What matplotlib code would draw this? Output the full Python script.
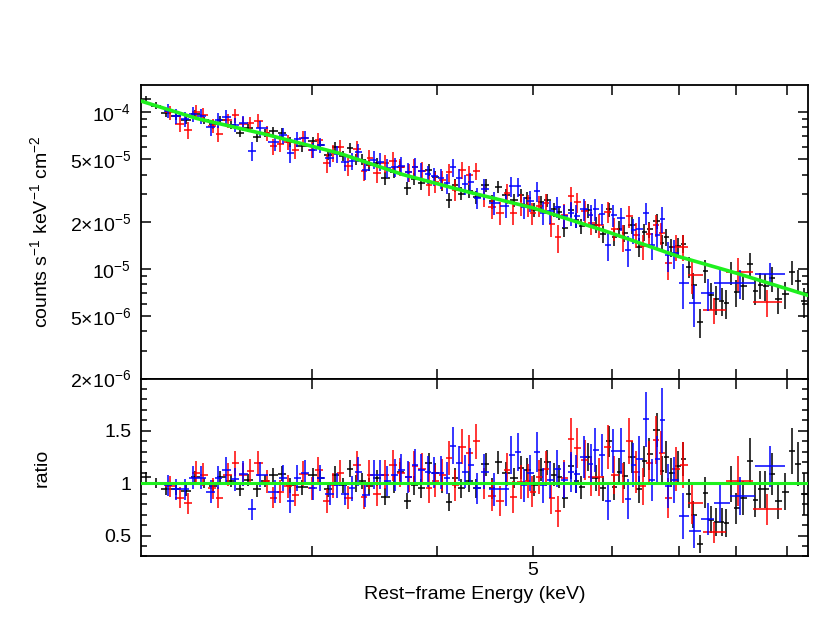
# spectrum + data/model ratio, three detectors, XSPEC style
import numpy as np
import matplotlib.pyplot as plt
from matplotlib.ticker import FixedLocator, FixedFormatter, MultipleLocator, NullLocator

plt.rcParams['font.family'] = ['Liberation Sans', 'DejaVu Sans']
plt.rcParams['mathtext.fontset'] = 'custom'
plt.rcParams['mathtext.rm'] = 'Liberation Sans'
plt.rcParams['mathtext.it'] = 'Liberation Sans:italic'
plt.rcParams['mathtext.default'] = 'regular'

# model curve (counts s^-1 keV^-1 cm^-2)
model_e = [2.0, 2.3, 2.7, 3.2, 3.7, 4.3, 5.0, 5.9, 7.0, 8.0, 9.5]
model_val = [1.20e-4, 9.1e-5, 7.2e-5, 5.45e-5, 4.0e-5, 3.1e-5, 2.45e-5, 1.75e-5, 1.20e-5, 9.4e-6, 6.7e-6]

# black data set: bin centre (keV), data/model ratio, ratio error
black_e = [2.044, 2.091, 2.140, 2.191, 2.242, 2.289, 2.338, 2.387, 2.425, 2.488,
           2.540, 2.588, 2.642, 2.691, 2.741, 2.799, 2.851, 2.931, 3.007, 3.056,
           3.114, 3.164, 3.223, 3.275, 3.321, 3.368, 3.423, 3.487, 3.552, 3.627,
           3.677, 3.737, 3.798, 3.860, 3.932, 3.987, 4.052, 4.118, 4.176, 4.234,
           4.313, 4.384, 4.486, 4.548, 4.612, 4.698, 4.786, 4.864, 4.932, 5.012,
           5.094, 5.165, 5.250, 5.311, 5.373, 5.460, 5.523, 5.587, 5.678, 5.785,
           5.880, 5.961, 6.031, 6.101, 6.172, 6.287, 6.389, 6.464, 6.539, 6.661,
           6.738, 6.801, 6.880, 6.992, 7.074, 7.173, 7.239, 7.357, 7.443, 7.547,
           7.635, 7.741, 7.813, 7.903, 7.996, 8.127, 8.259, 8.356, 8.452, 8.551,
           8.690, 8.812, 8.956, 9.101, 9.229, 9.358]
black_r = [1.06, 1.00, 0.94, 0.94, 0.93, 1.06, 1.00, 0.97, 1.06, 1.02,
           0.94, 1.03, 0.94, 1.02, 1.08, 1.09, 0.98, 0.96, 1.08, 1.05,
           0.94, 1.08, 0.98, 1.14, 1.00, 1.02, 0.97, 1.05, 0.87, 1.00,
           1.11, 0.83, 0.98, 0.95, 1.19, 1.10, 1.00, 0.82, 1.05, 0.95,
           1.02, 0.95, 1.18, 0.95, 1.20, 1.10, 1.05, 1.15, 1.13, 0.98,
           1.13, 1.20, 1.08, 1.06, 0.86, 1.16, 1.02, 0.96, 1.25, 1.05,
           0.95, 1.40, 0.96, 1.11, 1.07, 1.25, 0.94, 1.21, 1.28, 1.51,
           1.12, 1.25, 1.10, 1.16, 1.23, 0.90, 0.70, 0.42, 0.91, 0.65,
           0.63, 0.63, 0.62, 0.99, 0.76, 0.86, 1.21, 0.84, 0.94, 0.94,
           1.09, 0.83, 0.92, 1.31, 1.18, 0.90]
black_err = [0.05, 0.05, 0.05, 0.05, 0.05, 0.06, 0.05, 0.06, 0.06, 0.06,
             0.06, 0.06, 0.07, 0.06, 0.07, 0.07, 0.07, 0.07, 0.07, 0.07,
             0.07, 0.08, 0.07, 0.08, 0.08, 0.08, 0.08, 0.08, 0.08, 0.09,
             0.09, 0.08, 0.09, 0.09, 0.10, 0.09, 0.09, 0.09, 0.10, 0.09,
             0.10, 0.09, 0.11, 0.10, 0.11, 0.10, 0.10, 0.11, 0.11, 0.10,
             0.11, 0.12, 0.11, 0.11, 0.10, 0.12, 0.11, 0.11, 0.13, 0.12,
             0.12, 0.15, 0.12, 0.13, 0.13, 0.15, 0.13, 0.15, 0.15, 0.16,
             0.14, 0.15, 0.14, 0.15, 0.16, 0.14, 0.13, 0.09, 0.15, 0.13,
             0.13, 0.13, 0.13, 0.17, 0.15, 0.16, 0.22, 0.16, 0.18, 0.18,
             0.20, 0.17, 0.18, 0.22, 0.21, 0.20]

# red data set
red_e = [2.160, 2.211, 2.252, 2.294, 2.332, 2.387, 2.414, 2.470, 2.511, 2.558,
         2.600, 2.648, 2.703, 2.741, 2.786, 2.838, 2.884, 2.938, 3.000, 3.042,
         3.106, 3.150, 3.201, 3.260, 3.329, 3.383, 3.423, 3.487, 3.552, 3.618,
         3.677, 3.754, 3.798, 3.869, 3.932, 3.987, 4.052, 4.118, 4.176, 4.244,
         4.313, 4.384, 4.465, 4.548, 4.633, 4.709, 4.775, 4.864, 4.943, 4.989,
         5.070, 5.153, 5.213, 5.299, 5.373, 5.460, 5.536, 5.639, 5.718, 5.826,
         5.948, 6.031, 6.158, 6.244, 6.346, 6.449, 6.539, 6.646, 6.723, 6.833,
         6.960, 7.073, 7.223, 7.60, 8.03, 8.59]
red_r = [0.97, 0.86, 0.81, 1.10, 1.08, 0.95, 0.86, 1.08, 1.19, 1.08,
         1.12, 1.19, 1.02, 0.86, 0.92, 0.97, 0.89, 1.09, 0.95, 1.13,
         0.83, 0.98, 1.10, 0.86, 1.17, 0.87, 1.08, 0.90, 1.08, 1.17,
         1.10, 1.06, 1.16, 1.14, 0.95, 1.02, 1.08, 1.24, 0.98, 1.35,
         1.29, 1.40, 1.00, 0.88, 0.83, 1.13, 0.87, 1.01, 1.02, 0.92,
         1.06, 1.14, 0.86, 0.73, 1.05, 1.42, 1.34, 1.22, 1.06, 1.06,
         1.35, 1.08, 1.00, 1.40, 1.11, 0.97, 1.19, 1.41, 1.29, 0.86,
         1.14, 1.17, 0.81, 0.53, 1.02, 0.75]
red_err = [0.10, 0.10, 0.10, 0.11, 0.11, 0.10, 0.10, 0.11, 0.12, 0.11,
           0.11, 0.12, 0.11, 0.10, 0.11, 0.11, 0.11, 0.12, 0.11, 0.12,
           0.11, 0.12, 0.12, 0.11, 0.14, 0.12, 0.14, 0.12, 0.14, 0.15,
           0.14, 0.14, 0.15, 0.15, 0.14, 0.15, 0.15, 0.16, 0.15, 0.17,
           0.17, 0.17, 0.15, 0.15, 0.14, 0.16, 0.15, 0.16, 0.16, 0.15,
           0.16, 0.17, 0.15, 0.15, 0.17, 0.20, 0.19, 0.19, 0.18, 0.18,
           0.21, 0.18, 0.19, 0.22, 0.20, 0.18, 0.21, 0.23, 0.21, 0.19,
           0.21, 0.22, 0.20, 0.10, 0.24, 0.15]

# blue data set
blue_e = [2.150, 2.191, 2.237, 2.279, 2.321, 2.376, 2.414, 2.459, 2.511, 2.558,
          2.612, 2.660, 2.754, 2.806, 2.851, 2.898, 2.952, 3.007, 3.056, 3.128,
          3.179, 3.238, 3.290, 3.337, 3.391, 3.463, 3.511, 3.568, 3.635, 3.686,
          3.746, 3.807, 3.860, 3.923, 3.978, 4.043, 4.100, 4.157, 4.214, 4.274,
          4.323, 4.394, 4.465, 4.569, 4.698, 4.753, 4.831, 4.898, 4.966, 5.047,
          5.118, 5.201, 5.286, 5.373, 5.460, 5.523, 5.626, 5.718, 5.772, 5.866,
          5.948, 6.017, 6.129, 6.229, 6.302, 6.389, 6.494, 6.585, 6.661, 6.738,
          6.833, 6.928, 7.073, 7.256, 7.495, 7.705, 8.070, 8.650]
blue_r = [0.98, 0.94, 0.94, 1.05, 1.05, 0.92, 1.05, 1.13, 1.04, 1.09,
          0.75, 1.08, 0.92, 1.05, 0.83, 1.05, 1.10, 0.95, 1.05, 0.90,
          0.98, 0.90, 0.95, 1.11, 0.89, 1.08, 1.08, 1.02, 1.08, 1.13,
          1.06, 1.17, 1.13, 1.11, 1.10, 1.10, 1.05, 1.36, 1.19, 1.11,
          1.17, 0.95, 1.11, 0.94, 0.94, 1.27, 1.30, 0.98, 1.10, 1.30,
          0.98, 1.03, 1.14, 1.03, 1.11, 1.09, 1.25, 1.18, 1.32, 1.27,
          0.83, 1.31, 1.31, 0.85, 1.17, 1.23, 1.61, 1.03, 1.23, 1.60,
          0.97, 1.03, 0.69, 0.54, 0.66, 0.81, 0.88, 1.16]
blue_err = [0.10, 0.10, 0.10, 0.11, 0.11, 0.11, 0.11, 0.12, 0.11, 0.12,
            0.10, 0.12, 0.11, 0.12, 0.11, 0.12, 0.12, 0.11, 0.12, 0.11,
            0.12, 0.11, 0.12, 0.14, 0.12, 0.14, 0.14, 0.14, 0.15, 0.15,
            0.15, 0.16, 0.15, 0.15, 0.15, 0.16, 0.15, 0.18, 0.17, 0.16,
            0.17, 0.15, 0.17, 0.16, 0.16, 0.18, 0.18, 0.16, 0.17, 0.19,
            0.17, 0.17, 0.18, 0.17, 0.19, 0.18, 0.20, 0.19, 0.21, 0.20,
            0.18, 0.21, 0.22, 0.19, 0.21, 0.22, 0.26, 0.20, 0.22, 0.31,
            0.21, 0.22, 0.22, 0.16, 0.15, 0.18, 0.18, 0.20]

GREEN = '#1ef01e'


def model_at(e):
    # model value at the bin energies (log-log between the read points)
    return 10**np.interp(np.log10(e), np.log10(model_e), np.log10(model_val))


def half_widths(e):
    # grouped bins are contiguous: edges half way (in log) between centres
    e = np.asarray(e)
    mid = np.sqrt(e[1:] * e[:-1])
    lo = np.r_[e[0]**2 / mid[0], mid]
    hi = np.r_[mid, e[-1]**2 / mid[-1]]
    return [e - lo, hi - e]


fig = plt.figure(figsize=(8.3, 6.42), dpi=100)
ax1 = fig.add_axes([0.1699, 0.4104, 0.8030, 0.4572])
ax2 = fig.add_axes([0.1699, 0.1332, 0.8030, 0.2772], sharex=ax1)

sets = [(black_e, black_r, black_err, 'black'),
        (red_e, red_r, red_err, '#ff0000'),
        (blue_e, blue_r, blue_err, '#0000ff')]

for e, r, err, c in sets:
    e = np.array(e)
    r = np.array(r)
    err = np.array(err)
    xe = half_widths(e)
    m = model_at(e)
    ax1.errorbar(e, r * m, xerr=xe, yerr=err * m, fmt='none', ecolor=c, elinewidth=1.1, zorder=2)
    ax2.errorbar(e, r, xerr=xe, yerr=err, fmt='none', ecolor=c, elinewidth=1.1, zorder=2)

ax1.plot(model_e, model_val, color=GREEN, lw=2.6, zorder=3)
ax2.axhline(1.0, color=GREEN, lw=2.2, zorder=3)

# axes ranges
ax1.set_xscale('log')
ax1.set_yscale('log')
ax1.set_xlim(2.02, 9.43)
ax1.set_ylim(2e-6, 1.49e-4)
ax2.set_ylim(0.3, 2.0)

# x ticks: 3..9 keV, only 5 is labelled
ax1.xaxis.set_major_locator(FixedLocator([3, 4, 5, 6, 7, 8, 9]))
ax1.xaxis.set_major_formatter(FixedFormatter(['', '', '5', '', '', '', '']))
ax1.xaxis.set_minor_locator(NullLocator())

# y ticks of the spectrum
ymaj = [2e-6, 5e-6, 1e-5, 2e-5, 5e-5, 1e-4]
ylab = [r'$2{\times}10^{-6}$', r'$5{\times}10^{-6}$', r'$10^{-5}$',
        r'$2{\times}10^{-5}$', r'$5{\times}10^{-5}$', r'$10^{-4}$']
ax1.yaxis.set_major_locator(FixedLocator(ymaj))
ax1.yaxis.set_major_formatter(FixedFormatter(ylab))
ymin = [s * d for d in (1e-6, 1e-5, 1e-4) for s in (3, 4, 6, 7, 8, 9)]
ax1.yaxis.set_minor_locator(FixedLocator(ymin))

ax2.yaxis.set_major_locator(FixedLocator([0.5, 1.0, 1.5]))
ax2.yaxis.set_major_formatter(FixedFormatter(['0.5', '1', '1.5']))
ax2.yaxis.set_minor_locator(MultipleLocator(0.1))

for ax in (ax1, ax2):
    for sp in ax.spines.values():
        sp.set_linewidth(1.3)
    ax.tick_params(which='both', direction='in', top=True, right=True, width=1.1, labelsize=14)
    ax.tick_params(which='major', length=7)
    ax.tick_params(which='minor', length=4)
    ax.tick_params(axis='y', pad=7)
    ax.tick_params(axis='x', pad=4)

ax1.tick_params(labelbottom=False)

ax1.set_ylabel(r'counts s$^{-1}$ keV$^{-1}$ cm$^{-2}$', fontsize=14)
ax2.set_ylabel('ratio', fontsize=14)
ax1.yaxis.set_label_coords(-0.135, 0.5)
ax2.yaxis.set_label_coords(-0.135, 0.5)
ax2.set_xlabel('Rest\u2212frame Energy (keV)', fontsize=14, labelpad=5)

fig.savefig('out.png', dpi=100)
